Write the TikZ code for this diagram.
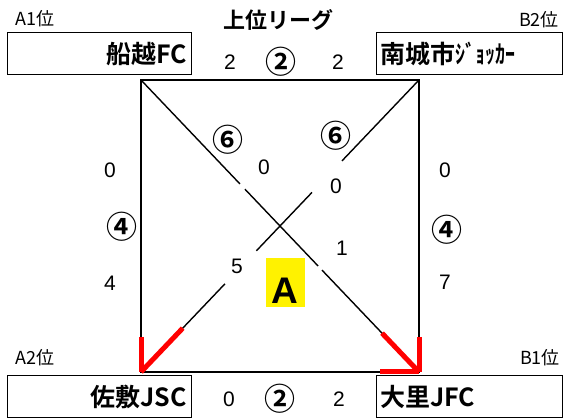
\documentclass[tikz,border=0pt]{standalone}
\usepackage{fontspec}
\setmainfont{Liberation Sans}
\newfontfamily\jp{Noto Sans CJK JP}[BoldFont={Noto Sans CJK JP Bold}]
\usetikzlibrary{positioning, calc}

\begin{document}
\begin{tikzpicture}[x=1pt, y=-1pt, every node/.style={inner sep=0pt},
    team/.style={draw, line width=1pt, minimum height=42pt, font=\jp\bfseries\fontsize{25}{25}\selectfont},
    rank/.style={font=\jp\fontsize{18}{18}\selectfont},
    score/.style={font=\fontsize{21}{21}\selectfont},
    match/.style={font=\jp\bfseries\fontsize{31}{31}\selectfont},
    edge/.style={line width=1.4pt},
    win/.style={red, line width=5pt}]
    \useasboundingbox (0,0) rectangle (571,419);
    % Square
    \coordinate (tl) at (141,80);
    \coordinate (tr) at (419,80);
    \coordinate (bl) at (141,372);
    \coordinate (br) at (419,372);
    % Title
    \node[font=\jp\bfseries\fontsize{22}{22}\selectfont] (title) at (278,20) {上位リーグ};
    % Teams
    \node[team, minimum width=184pt, text width=176pt, align=right] (funakoshi) at (99,54) {船越FC};
    \node[team, minimum width=186pt, text width=178pt, align=left] (nanjo) at (469,54) {南城市\scalebox{0.8}[1]{ｼﾞｮｯｶｰ}};
    \node[team, minimum width=184pt, text width=176pt, align=right] (sashiki) at (99,397) {佐敷JSC};
    \node[team, minimum width=186pt, text width=178pt, align=left] (ozato) at (469,397) {大里JFC};
    % Ranks
    \node[rank] (a1) at (35,19) {A1位};
    \node[rank] (b2) at (539,20) {B2位};
    \node[rank] (a2) at (35,358) {A2位};
    \node[rank] (b1) at (540,358) {B1位};
    % Lines
    \draw[edge] (tl) -- (tr) -- (br) -- (bl) -- cycle;
    \foreach \a/\b in {0/0.356, 0.374/0.637, 0.651/1} {
        \draw[edge] ($(tl)!\a!(br)$) -- ($(tl)!\b!(br)$);
    }
    \foreach \a/\b in {0/0.277, 0.385/0.585, 0.698/1} {
        \draw[edge] ($(tr)!\a!(bl)$) -- ($(tr)!\b!(bl)$);
    }
    % Winners
    \draw[win] ($(tr)!0.85!(bl)$) -- (bl);
    \draw[win] ($(bl)!0.12!(tl)$) -- (bl);
    \draw[win] ($(tl)!0.867!(br)$) -- (br);
    \draw[win] ($(br)!0.12!(tr)$) -- (br);
    \draw[win] ($(br)!0.14!(bl)$) -- (br);
    % Scores
    \node[score] (s1) at (230,62) {2};
    \node[match] (m1) at (281,62) {②};
    \node[score] (s2) at (338,62) {2};
    \node[score] (s3) at (229,399) {0};
    \node[match] (m2) at (280,399) {②};
    \node[score] (s4) at (339,399) {2};
    \node[score] (s5) at (110,170) {0};
    \node[match] (m3) at (122,227) {④};
    \node[score] (s6) at (110,283) {4};
    \node[score] (s7) at (445,170) {0};
    \node[match] (m4) at (447,230) {④};
    \node[score] (s8) at (445,282) {7};
    \node[match] (m5) at (228,140) {⑥};
    \node[score] (s9) at (264,167) {0};
    \node[match] (m6) at (336,136) {⑥};
    \node[score] (s10) at (336,186) {0};
    \node[score] (s11) at (342,248) {1};
    \node[score] (s12) at (237,266) {5};
    % Block
    \node[fill=yellow, minimum width=39pt, minimum height=49pt] (blockA) at (285.5,282.5) {};
    \node[font=\bfseries\fontsize{37}{37}\selectfont] (letterA) at (285,290.5) {A};
\end{tikzpicture}
\end{document}
